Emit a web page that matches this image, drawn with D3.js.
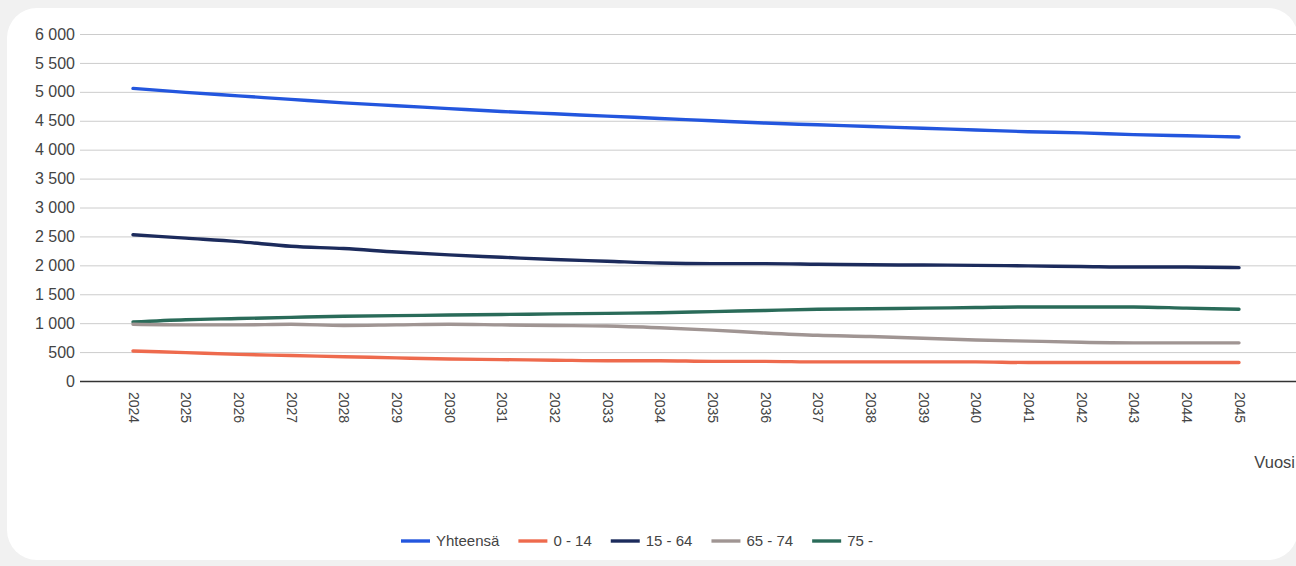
<!DOCTYPE html>
<html>
<head>
<meta charset="utf-8">
<script src="https://cdn.jsdelivr.net/npm/d3@7"></script>
<style>
  html, body { margin: 0; padding: 0; background: #f1f1f1; }
  svg { display: block; font-family: "Liberation Sans", Arial, sans-serif; }
</style>
</head>
<body>
<svg id="chart" width="1296" height="566"></svg>
<script>
// Population projection by age group, 2024–2045
const years = [2024, 2025, 2026, 2027, 2028, 2029, 2030, 2031, 2032, 2033, 2034,
               2035, 2036, 2037, 2038, 2039, 2040, 2041, 2042, 2043, 2044, 2045];

const yhteensa = [5060, 4990, 4930, 4870, 4810, 4760, 4710, 4660, 4620, 4580, 4540,
                  4500, 4460, 4430, 4400, 4370, 4340, 4310, 4290, 4260, 4240, 4220];
const age0_14  = [520, 490, 460, 440, 420, 400, 380, 370, 360, 350, 350,
                  340, 340, 330, 330, 330, 330, 320, 320, 320, 320, 320];
const age15_64 = [2530, 2470, 2410, 2330, 2290, 2230, 2180, 2140, 2100, 2070, 2040,
                  2030, 2030, 2020, 2010, 2005, 2000, 1990, 1980, 1970, 1970, 1960];
const age65_74 = [980, 970, 970, 980, 960, 970, 980, 970, 960, 950, 920,
                  880, 830, 790, 770, 740, 710, 690, 670, 660, 660, 660];
const age75    = [1020, 1060, 1080, 1100, 1120, 1130, 1140, 1150, 1160, 1170, 1180,
                  1200, 1220, 1240, 1250, 1260, 1270, 1280, 1280, 1280, 1260, 1240];

const seriesNames  = ["Yhteensä", "0 - 14", "15 - 64", "65 - 74", "75 -"];
const seriesValues = [yhteensa, age0_14, age15_64, age65_74, age75];
const seriesColors = ["#2356de", "#ee6a4d", "#1c2b5c", "#a09593", "#2a6b59"];

const yTicks = [0, 500, 1000, 1500, 2000, 2500, 3000, 3500, 4000, 4500, 5000, 5500, 6000];
const xTitle = "Vuosi";

const svg = d3.select("#chart");
const FONT = "'Liberation Sans', Arial, sans-serif";

// white card
svg.append("rect")
  .attr("x", 7).attr("y", 8)
  .attr("width", 1291).attr("height", 552)
  .attr("rx", 30).attr("ry", 30)
  .attr("fill", "#ffffff");

const plot = { left: 80, right: 1296, top: 34, bottom: 381 };

const x = d3.scalePoint().domain(years).range([133, 1239]);
const y = d3.scaleLinear().domain([0, 6000]).range([plot.bottom, plot.top]);

const fi = d3.formatLocale({ decimal: ",", thousands: "\u00a0", grouping: [3], currency: ["", "€"] });
const fmt = fi.format(",d");

// gridlines
svg.append("g").selectAll("line")
  .data(yTicks.filter(d => d !== 0))
  .join("line")
  .attr("x1", plot.left).attr("x2", plot.right)
  .attr("y1", d => y(d) + 0.5).attr("y2", d => y(d) + 0.5)
  .attr("stroke", "#cccccc").attr("stroke-width", 1);

// y axis labels
const yAxis = d3.axisLeft(y).tickValues(yTicks).tickFormat(fmt).tickSize(0).tickPadding(5);
const gy = svg.append("g").attr("transform", `translate(${plot.left},0)`).call(yAxis);
gy.select(".domain").remove();
gy.selectAll(".tick text")
  .attr("fill", "#444444").attr("font-size", 16)
  .attr("font-family", FONT);

// baseline
svg.append("line")
  .attr("x1", plot.left).attr("x2", plot.right)
  .attr("y1", y(0) + 0.5).attr("y2", y(0) + 0.5)
  .attr("stroke", "#333333").attr("stroke-width", 1.3);

// x axis labels, rotated
const xAxis = d3.axisBottom(x).tickSize(0).tickPadding(0);
const gx = svg.append("g").attr("transform", `translate(0,${plot.bottom})`).call(xAxis);
gx.select(".domain").remove();
gx.selectAll(".tick text")
  .attr("transform", "rotate(90)")
  .attr("x", 11).attr("y", 0)
  .attr("dy", "0.35em")
  .attr("text-anchor", "start")
  .attr("fill", "#444444").attr("font-size", 14)
  .attr("font-family", FONT);

// axis title
svg.append("text")
  .attr("x", 1295).attr("y", 468)
  .attr("text-anchor", "end")
  .attr("fill", "#444444").attr("font-size", 16.5)
  .text(xTitle);

// series lines
const line = d3.line()
  .x((d, i) => x(years[i]))
  .y(d => y(d))
  .curve(d3.curveMonotoneX);

svg.append("g").selectAll("path")
  .data(seriesValues.map((v, i) => ({ v, c: seriesColors[i] })).reverse())
  .join("path")
  .attr("d", d => line(d.v))
  .attr("fill", "none")
  .attr("stroke", d => d.c)
  .attr("stroke-width", 3.4)
  .attr("stroke-linecap", "round")
  .attr("stroke-linejoin", "round");

// legend
const legend = svg.append("g").attr("transform", "translate(401,541)");
let lx = 0;
seriesNames.forEach((name, i) => {
  const g = legend.append("g").attr("transform", `translate(${lx},0)`);
  g.append("line")
    .attr("x1", 0).attr("x2", 29).attr("y1", 0).attr("y2", 0)
    .attr("stroke", seriesColors[i]).attr("stroke-width", 3.4);
  const t = g.append("text")
    .attr("x", 35).attr("y", 0).attr("dy", "0.35em")
    .attr("fill", "#444444").attr("font-size", 15)
    .text(name);
  lx += 35 + t.node().getComputedTextLength() + 19;
});
</script>
</body>
</html>
